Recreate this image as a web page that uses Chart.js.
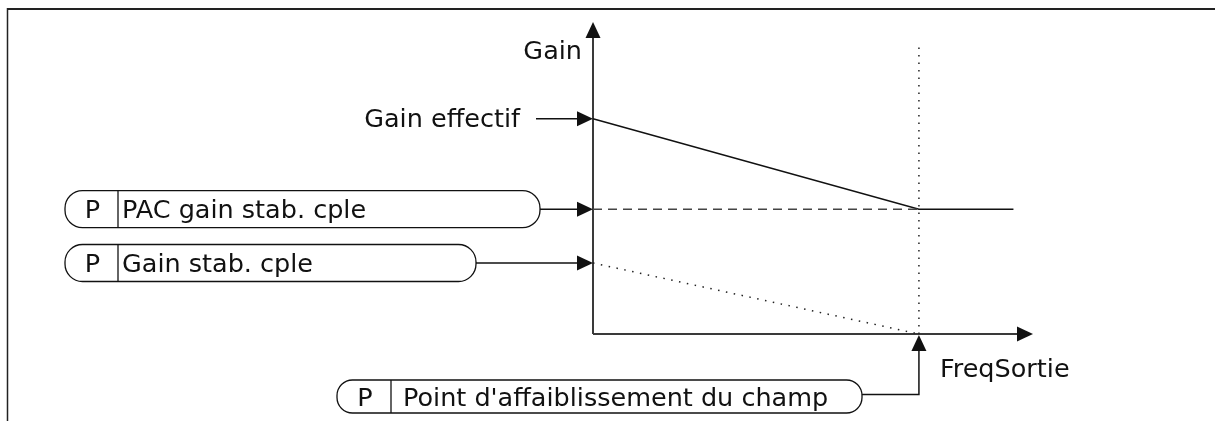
<!DOCTYPE html>
<html lang="fr">
<head>
<meta charset="utf-8">
<title>Gain stab. cple</title>
<script src="https://cdn.jsdelivr.net/npm/chart.js@4.4.1/dist/chart.umd.min.js"></script>
<style>
  html, body { margin: 0; padding: 0; background: #fff; }
  #wrap { width: 1215px; height: 421px; position: relative; }
</style>
</head>
<body>
<div id="wrap"><canvas id="chart"></canvas></div>
<script>
// Relative units: freq 100 = field weakening point, gain 100 = effective gain
const freqEff = [0, 100, 129];
const gainEff = [100, 58, 58];
const freqPac = [0, 100];
const gainPac = [58, 58];
const freqStab = [0, 100];
const gainStab = [33, 0];
const freqFw = [100, 100];
const gainFw = [0, 135];
const freqMax = 135;
const gainMax = 145;

const FONT = '25.5px "DejaVu Sans", sans-serif';
const INK = '#111';

function pts(xs, ys) {
    return xs.map((x, i) => ({ x: x, y: ys[i] }));
}

function arrowHead(ctx, x, y, dir) {
    // dir: 'right' | 'up'
    const len = 16, half = 7.5;
    ctx.beginPath();
    if (dir === 'right') {
        ctx.moveTo(x, y);
        ctx.lineTo(x - len, y - half);
        ctx.lineTo(x - len, y + half);
    } else {
        ctx.moveTo(x, y);
        ctx.lineTo(x - half, y + len);
        ctx.lineTo(x + half, y + len);
    }
    ctx.closePath();
    ctx.fill();
}

function line(ctx, x1, y1, x2, y2) {
    ctx.beginPath();
    ctx.moveTo(x1, y1);
    ctx.lineTo(x2, y2);
    ctx.stroke();
}

function paramBox(ctx, left, right, top, bottom, divX, textX, text) {
    const h = bottom - top;
    const cy = top + h / 2;
    ctx.lineWidth = 1.3;
    ctx.strokeStyle = INK;
    ctx.beginPath();
    ctx.roundRect(left, top, right - left, h, h / 2 - 1);
    ctx.stroke();
    line(ctx, divX, top, divX, bottom);
    ctx.fillStyle = INK;
    ctx.font = FONT;
    ctx.textBaseline = 'alphabetic';
    ctx.textAlign = 'center';
    ctx.fillText('P', left + (divX - left) / 2 + 1, cy + 9);
    ctx.textAlign = 'left';
    ctx.fillText(text, textX, cy + 9);
    return cy;
}

const diagramPlugin = {
    id: 'diagram',
    beforeDatasetsDraw(chart) {
        const ctx = chart.ctx;
        const xs = chart.scales.x, ys = chart.scales.y;
        const x0 = xs.getPixelForValue(0), y0 = ys.getPixelForValue(0);
        const xEnd = xs.getPixelForValue(freqMax), yEnd = ys.getPixelForValue(gainMax);
        ctx.save();
        // outer frame (top + left)
        ctx.strokeStyle = '#222';
        ctx.lineWidth = 2;
        line(ctx, 7, 9, 1215, 9);
        ctx.lineWidth = 1.5;
        line(ctx, 7.5, 8, 7.5, 421);
        // axes
        ctx.strokeStyle = '#3a3a3a';
        ctx.fillStyle = INK;
        ctx.lineWidth = 2;
        line(ctx, x0, y0, x0, yEnd + 8);
        line(ctx, x0, y0, xEnd - 8, y0);
        arrowHead(ctx, x0, yEnd, 'up');
        arrowHead(ctx, xEnd, y0, 'right');
        ctx.restore();
    },
    afterDraw(chart) {
        const ctx = chart.ctx;
        const xs = chart.scales.x, ys = chart.scales.y;
        const x0 = xs.getPixelForValue(0), y0 = ys.getPixelForValue(0);
        const xFw = xs.getPixelForValue(freqFw[0]);
        ctx.save();
        ctx.fillStyle = INK;
        ctx.strokeStyle = INK;
        ctx.font = FONT;

        // axis titles
        ctx.textAlign = 'right';
        ctx.textBaseline = 'alphabetic';
        ctx.fillText('Gain', x0 - 11, 59);
        ctx.textAlign = 'left';
        ctx.fillText('FreqSortie', xFw + 21, 377);

        // Gain effectif label + arrow
        const yEff = ys.getPixelForValue(gainEff[0]);
        ctx.textAlign = 'right';
        ctx.fillText('Gain effectif', 520, yEff + 8);
        ctx.lineWidth = 1.5;
        line(ctx, 536, yEff, x0 - 10, yEff);
        arrowHead(ctx, x0, yEff, 'right');

        // parameter boxes
        const yPac = ys.getPixelForValue(gainPac[0]);
        paramBox(ctx, 65, 540, yPac - 18.5, yPac + 18.5, 118, 122, 'PAC gain stab. cple');
        ctx.lineWidth = 1.5;
        line(ctx, 540, yPac, x0 - 10, yPac);
        arrowHead(ctx, x0, yPac, 'right');

        const yStab = ys.getPixelForValue(gainStab[0]);
        paramBox(ctx, 65, 476, yStab - 18.5, yStab + 18.5, 118, 122, 'Gain stab. cple');
        ctx.lineWidth = 1.5;
        line(ctx, 476, yStab, x0 - 10, yStab);
        arrowHead(ctx, x0, yStab, 'right');

        const cy = paramBox(ctx, 337, 862, 380, 413, 391, 403, "Point d'affaiblissement du champ");
        ctx.lineWidth = 1.5;
        ctx.beginPath();
        ctx.moveTo(862, cy - 2);
        ctx.lineTo(xFw, cy - 2);
        ctx.lineTo(xFw, y0 + 10);
        ctx.stroke();
        arrowHead(ctx, xFw, y0 + 1, 'up');
        ctx.restore();
    }
};

const lineBase = { showLine: true, pointRadius: 0, borderWidth: 1.5, fill: false, clip: false, tension: 0 };

new Chart(document.getElementById('chart'), {
    type: 'scatter',
    data: {
        datasets: [
            { ...lineBase, label: 'Point affaiblissement', data: pts(freqFw, gainFw), borderColor: '#222', borderDash: [1.5, 6] },
            { ...lineBase, label: 'Gain stab. cple', data: pts(freqStab, gainStab), borderColor: '#222', borderDash: [1.5, 6.5] },
            { ...lineBase, label: 'PAC gain stab. cple', data: pts(freqPac, gainPac), borderColor: '#444', borderDash: [9, 6] },
            { ...lineBase, label: 'Gain effectif', data: pts(freqEff, gainEff), borderColor: INK }
        ]
    },
    options: {
        responsive: true,
        maintainAspectRatio: false,
        animation: false,
        events: [],
        layout: { padding: { left: 593, right: 182, top: 22, bottom: 87 } },
        plugins: { legend: { display: false }, tooltip: { enabled: false } },
        scales: {
            x: { type: 'linear', min: 0, max: freqMax, display: false },
            y: { type: 'linear', min: 0, max: gainMax, display: false }
        }
    },
    plugins: [diagramPlugin]
});
</script>
</body>
</html>
